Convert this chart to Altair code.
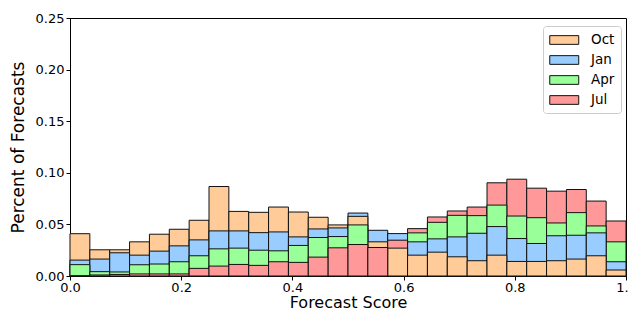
import altair as alt
import pandas as pd

months = ["Oct", "Jan", "Apr", "Jul"]
colors = ["#FFCC99", "#99CCFF", "#99FF99", "#FF9999"]
n_bins = 28
bin_edges = [i / n_bins for i in range(n_bins + 1)]

oct_vals = [0.041, 0.0254, 0.0254, 0.0331, 0.0405, 0.0453, 0.054, 0.0867, 0.0626, 0.0617,
            0.0668, 0.062, 0.0569, 0.0495, 0.0578, 0.0331, 0.027, 0.0202, 0.0231, 0.0186,
            0.0148, 0.0202, 0.0141, 0.0141, 0.0148, 0.0164, 0.0196, 0.0058]
jan_vals = [0.0154, 0.0164, 0.0225, 0.0202, 0.0241, 0.0292, 0.035, 0.0437, 0.0437, 0.042,
            0.0427, 0.0379, 0.0456, 0.0466, 0.061, 0.0443, 0.0411, 0.0331, 0.036, 0.0379,
            0.0414, 0.0479, 0.0363, 0.0315, 0.039, 0.0395, 0.0418, 0.0138]
apr_vals = [0.011, 0.0042, 0.0039, 0.0109, 0.0116, 0.0138, 0.0196, 0.0263, 0.027, 0.025,
            0.0244, 0.0296, 0.0373, 0.0382, 0.0495, 0.042, 0.040, 0.0418, 0.052, 0.0588,
            0.0585, 0.0687, 0.0581, 0.0565, 0.0514, 0.0614, 0.0485, 0.0331]
jul_vals = [0.0, 0.001, 0.0015, 0.002, 0.002, 0.002, 0.0074, 0.0096, 0.0112, 0.0103,
            0.0138, 0.0132, 0.0183, 0.0273, 0.0305, 0.0276, 0.0347, 0.0459, 0.0572, 0.063,
            0.0668, 0.0903, 0.0938, 0.0851, 0.0822, 0.0838, 0.0726, 0.0533]

# bars that sit behind a taller neighbour in the reference (hidden)
behind = {("Apr", 15), ("Apr", 16)}

series = {"Oct": oct_vals, "Jan": jan_vals, "Apr": apr_vals, "Jul": jul_vals}
rows = []
for m in months:
    for i, v in enumerate(series[m]):
        rows.append({"month": m, "bin": i, "start": bin_edges[i], "end": bin_edges[i + 1], "value": v})
df = pd.DataFrame(rows)
# draw taller bars first so shorter ones are in front
df["z"] = df.groupby("bin")["value"].rank(ascending=False, method="first")
for m, b in behind:
    df.loc[(df["month"] == m) & (df["bin"] == b), "z"] = 0

chart = alt.Chart(df).mark_rect(stroke="#111111", strokeWidth=1, opacity=1).encode(
    x=alt.X("start:Q", scale=alt.Scale(domain=[0, 1], nice=False),
            axis=alt.Axis(title="Forecast Score", values=[0, 0.2, 0.4, 0.6, 0.8, 1.0], format=".1f")),
    x2="end:Q",
    y=alt.Y("value:Q", stack=None, scale=alt.Scale(domain=[0, 0.25], nice=False),
            axis=alt.Axis(title="Percent of Forecasts", values=[0, 0.05, 0.1, 0.15, 0.2, 0.25], format=".2f")),
    y2=alt.datum(0),
    color=alt.Color("month:N", scale=alt.Scale(domain=months, range=colors),
                    legend=alt.Legend(title=None, orient="none", legendX=473, legendY=8,
                                      symbolType="M-1,-0.6H3V0.6H-1Z", symbolSize=210,
                                      symbolStrokeColor="#111111", symbolStrokeWidth=1,
                                      labelFontSize=13.5, labelOffset=26, rowPadding=5,
                                      padding=6, fillColor="white", strokeColor="#cccccc",
                                      cornerRadius=3, labelFont="DejaVu Sans", labelColor="black")),
    order=alt.Order("z:Q", sort="ascending"),
).properties(
    width=556, height=258,
    autosize=alt.AutoSizeParams(type="none"),
    padding={"left": 62, "top": 10, "right": 3, "bottom": 32},
).configure_view(
    stroke="black", strokeWidth=1
).configure_axis(
    labelFont="DejaVu Sans", titleFont="DejaVu Sans",
    labelFontSize=13, titleFontSize=17, titleFontWeight="normal",
    labelColor="black", titleColor="black",
    domainColor="black", tickColor="black", tickSize=4,
    grid=False, labelPadding=2, labelFlush=False,
).configure_axisY(
    titlePadding=8
).configure_axisX(
    titlePadding=0, labelPadding=1, titleFontSize=16
)

chart.save("out.html", embed_options={"renderer": "svg", "actions": False})
